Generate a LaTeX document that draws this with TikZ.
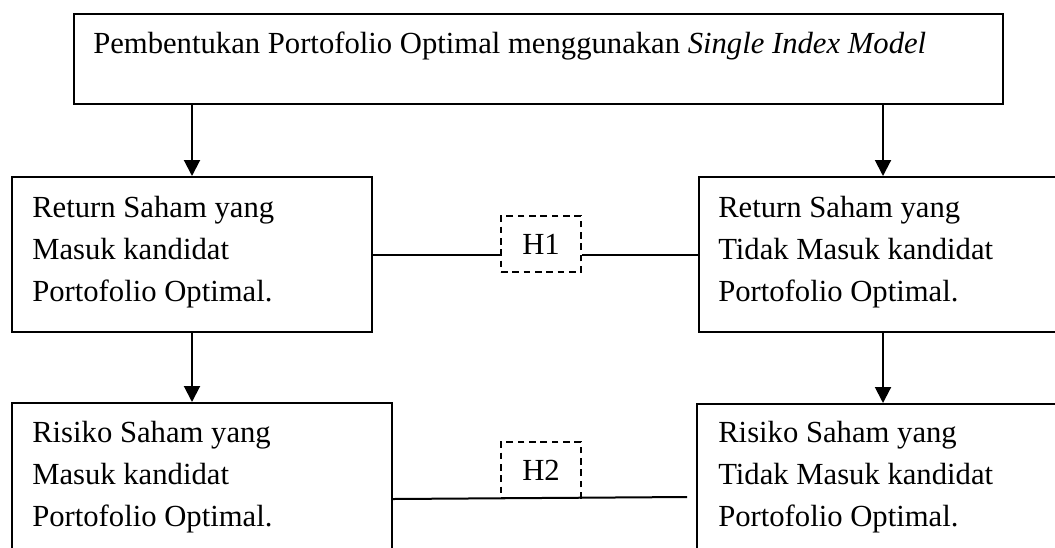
\documentclass[tikz,border=0pt]{standalone}
\usepackage{fontspec}
\setmainfont{Liberation Serif}
\usetikzlibrary{arrows.meta,calc}
\begin{document}
\begin{tikzpicture}[x=0.75pt,y=-0.75pt,
  box/.style={draw, line width=1.5pt, rectangle, inner sep=0pt, anchor=north west},
  hyp/.style={draw, line width=1.5pt, dash pattern=on 5pt off 3.5pt, inner sep=0pt,
    anchor=north west, minimum width=60pt, minimum height=42pt,
    font=\fontsize{23}{31.5}\selectfont},
  txt/.style={inner sep=0pt, anchor=base west},
  link/.style={line width=1.5pt},
  arr/.style={line width=1.5pt, -{Triangle[width=12pt,length=12pt]}}]
\useasboundingbox (0,0) rectangle (1055,547);
\clip (0,0) rectangle (1055,547);
\newcommand{\boxtext}[1]{\parbox[t]{300pt}{\fontsize{23}{31.5}\selectfont #1}}
% boxes
\node[box, minimum width=696.75pt, minimum height=67.5pt] (top) at (73,13) {};
\node[box, minimum width=270pt, minimum height=116.25pt] (l1) at (11,176) {};
\node[box, minimum width=276pt, minimum height=116.25pt] (r1) at (698,176) {};
\node[box, minimum width=285pt, minimum height=150pt] (l2) at (11,402) {};
\node[box, minimum width=279pt, minimum height=150pt] (r2) at (696,403) {};
\node[hyp] (h1) at (500,215) {H1};
\node[hyp] (h2) at (500,441) {H2};
% texts
\node[txt] (toptxt) at (93,53) {\fontsize{23}{31.5}\selectfont Pembentukan Portofolio Optimal menggunakan \textit{Single Index Model}};
\node[txt] (l1txt) at (32,217) {\boxtext{Return Saham yang\\Masuk kandidat\\Portofolio Optimal.}};
\node[txt] (r1txt) at (718,217) {\boxtext{Return Saham yang\\Tidak Masuk kandidat\\Portofolio Optimal.}};
\node[txt] (l2txt) at (32,442) {\boxtext{Risiko Saham yang\\Masuk kandidat\\Portofolio Optimal.}};
\node[txt] (r2txt) at (718,442) {\boxtext{Risiko Saham yang\\Tidak Masuk kandidat\\Portofolio Optimal.}};
% connectors
\coordinate (e2) at (687,497);
\draw[arr] (top.south -| l1.north) -- (l1.north);
\draw[arr] (top.south -| r1.north) -- (r1.north);
\draw[arr] (l1.south) -- (l1.south |- l2.north);
\draw[arr] (r1.south) -- (r1.south |- r2.north);
\draw[link] (l1.east) -- (h1.west |- l1.east);
\draw[link] (h1.east |- r1.west) -- (r1.west);
\draw[link] (l2.east |- h2.south) -- (e2);
\end{tikzpicture}
\end{document}
